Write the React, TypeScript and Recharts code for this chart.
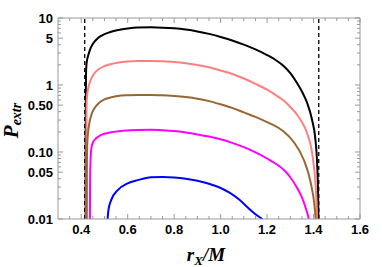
import React from "react";
import { LineChart, Line, XAxis, YAxis, ReferenceLine } from "recharts";

// ---- data (x = r_X/M, y = P_extr) ----
const blackCurve: [number, number][] = [
  [0.4188, 0.01], [0.419, 0.1], [0.4195, 0.6], [0.4205, 1.4], [0.422, 1.9], [0.4245, 2.3], [0.4285, 2.63],
  [0.435, 3.15], [0.4427, 3.7], [0.455, 4.35], [0.4714, 5.0], [0.49, 5.5], [0.5142, 6.0], [0.54, 6.4],
  [0.5712, 6.75], [0.6, 6.98], [0.643, 7.2], [0.7, 7.25], [0.75, 7.18], [0.8, 7.02], [0.85, 6.72],
  [0.9, 6.3], [0.95, 5.8], [1.0, 5.22], [1.05, 4.62], [1.1, 4.0], [1.15, 3.4], [1.2, 2.8], [1.237, 2.36],
  [1.2726, 1.9], [1.3, 1.5], [1.3296, 1.06], [1.35, 0.8], [1.3724, 0.54], [1.3938, 0.3], [1.4084, 0.15],
  [1.4153, 0.07], [1.4195, 0.025], [1.4213, 0.01],
];
const salmonCurve: [number, number][] = [
  [0.4218, 0.01], [0.4222, 0.1], [0.4228, 0.4], [0.424, 0.62], [0.428, 0.82], [0.4358, 1.06],
  [0.445, 1.28], [0.4572, 1.5], [0.475, 1.72], [0.5, 1.92], [0.53, 2.06], [0.557, 2.15], [0.6, 2.24],
  [0.643, 2.28], [0.7, 2.29], [0.75, 2.26], [0.8, 2.21], [0.85, 2.12], [0.9, 1.99], [0.95, 1.84],
  [1.0, 1.65], [1.05, 1.46], [1.1, 1.25], [1.15, 1.04], [1.2, 0.85], [1.25, 0.66], [1.2726, 0.58],
  [1.3, 0.47], [1.3296, 0.36], [1.35, 0.28], [1.3724, 0.19], [1.3981, 0.076], [1.411, 0.024], [1.4153, 0.01],
];
const brownCurve: [number, number][] = [
  [0.4238, 0.01], [0.4242, 0.05], [0.4255, 0.12], [0.4285, 0.18], [0.4358, 0.28], [0.445, 0.37],
  [0.4572, 0.45], [0.475, 0.535], [0.5, 0.61], [0.53, 0.655], [0.557, 0.685], [0.6, 0.703], [0.643, 0.71],
  [0.7, 0.712], [0.75, 0.703], [0.8, 0.685], [0.85, 0.66], [0.9, 0.625], [0.95, 0.575], [1.0, 0.515],
  [1.05, 0.455], [1.1, 0.39], [1.15, 0.335], [1.2, 0.28], [1.25, 0.228], [1.2726, 0.2], [1.3154, 0.14],
  [1.3583, 0.076], [1.387, 0.036], [1.4041, 0.016], [1.4095, 0.01],
];
const magentaCurve: [number, number][] = [
  [0.4375, 0.01], [0.438, 0.03], [0.4392, 0.06], [0.4427, 0.107], [0.45, 0.138], [0.4572, 0.151],
  [0.4855, 0.18], [0.5284, 0.197], [0.58, 0.207], [0.643, 0.213], [0.7, 0.214], [0.75, 0.211],
  [0.8, 0.205], [0.85, 0.195], [0.9, 0.183], [0.95, 0.17], [1.0, 0.155], [1.05, 0.137], [1.1, 0.118],
  [1.137, 0.104], [1.2, 0.08], [1.251, 0.062], [1.2726, 0.054], [1.3, 0.042], [1.3296, 0.029],
  [1.35, 0.021], [1.3724, 0.0125], [1.38, 0.01],
];
const blueCurve: [number, number][] = [
  [0.5135, 0.01], [0.517, 0.0135], [0.5284, 0.019], [0.5572, 0.027], [0.6, 0.034], [0.643, 0.038],
  [0.7, 0.042], [0.75, 0.0425], [0.8, 0.0418], [0.85, 0.04], [0.9, 0.0372], [0.95, 0.0335], [1.0, 0.029],
  [1.04, 0.0245], [1.08, 0.0195], [1.12, 0.0145], [1.15, 0.0118], [1.18, 0.01],
];

const asymptotes = [0.415, 1.4225];

const xDomain: [number, number] = [0.3, 1.6];
const yDomain: [number, number] = [0.01, 10];
const xMajor = [0.4, 0.6, 0.8, 1.0, 1.2, 1.4, 1.6];
const xMajorLabels = ["0.4", "0.6", "0.8", "1.0", "1.2", "1.4", "1.6"];
const xMinor = [0.35, 0.45, 0.5, 0.55, 0.65, 0.7, 0.75, 0.85, 0.9, 0.95, 1.05, 1.1, 1.15, 1.25, 1.3, 1.35, 1.45, 1.5, 1.55];
const yMajor = [0.01, 0.05, 0.1, 0.5, 1, 5, 10];
const yMajorLabels = ["0.01", "0.05", "0.10", "0.50", "1", "5", "10"];
const yMinor = [0.02, 0.03, 0.04, 0.06, 0.07, 0.08, 0.09, 0.2, 0.3, 0.4, 0.6, 0.7, 0.8, 0.9, 2, 3, 4, 6, 7, 8, 9];

const series = [
  { name: "black", data: blackCurve, color: "#000000" },
  { name: "salmon", data: salmonCurve, color: "#ff7f7f" },
  { name: "brown", data: brownCurve, color: "#996633" },
  { name: "magenta", data: magentaCurve, color: "#ff00ff" },
  { name: "blue", data: blueCurve, color: "#0000ff" },
];

const frame = "#999999";
const tickFont = "'Liberation Sans', Arial, sans-serif";
const serif = "'Liberation Serif', 'Times New Roman', serif";
const xTicks = [...xMajor, ...xMinor].sort((a, b) => a - b);
const yTicks = [...yMajor, ...yMinor].sort((a, b) => a - b);

const near = (arr: number[], v: number) => arr.findIndex((a) => Math.abs(a - v) < 1e-9);
const labelStyle = { fontFamily: tickFont, fontWeight: "bold" as const, fontSize: 13 };

const BottomTick = (p: any) => {
  const i = near(xMajor, p.payload.value);
  const len = i >= 0 ? 5 : 3;
  const x = Number(p.x);
  const y = Number(p.y);
  return (
    <g>
      <path d={`M${x},${y}V${y - len}`} stroke={frame} strokeWidth={1} fill="none" />
      {i >= 0 && (
        <text x={x} y={y + 15} textAnchor="middle" style={labelStyle} fill="#000">
          {xMajorLabels[i]}
        </text>
      )}
    </g>
  );
};
const TopTick = (p: any) => {
  const i = near(xMajor, p.payload.value);
  const len = i >= 0 ? 5 : 3;
  const x = Number(p.x);
  const y = Number(p.y);
  return <path d={`M${x},${y}V${y + len}`} stroke={frame} strokeWidth={1} fill="none" />;
};
const LeftTick = (p: any) => {
  const i = near(yMajor, p.payload.value);
  const len = i >= 0 ? 5 : 3;
  const x = Number(p.x);
  const y = Number(p.y);
  return (
    <g>
      <path d={`M${x},${y}H${x + len}`} stroke={frame} strokeWidth={1} fill="none" />
      {i >= 0 && (
        <text x={x - 5} y={y} dy="0.36em" textAnchor="end" style={labelStyle} fill="#000">
          {yMajorLabels[i]}
        </text>
      )}
    </g>
  );
};
const RightTick = (p: any) => {
  const i = near(yMajor, p.payload.value);
  const len = i >= 0 ? 5 : 3;
  const x = Number(p.x);
  const y = Number(p.y);
  return <path d={`M${x},${y}H${x - len}`} stroke={frame} strokeWidth={1} fill="none" />;
};

const YLabel = (props: any) => {
  const vb = props.viewBox || { x: 0, y: 18, width: 58, height: 201 };
  const cy = vb.y + vb.height / 2;
  return (
    <text
      transform={`translate(18, ${cy + 2}) rotate(-90)`}
      textAnchor="middle"
      style={{ fontFamily: serif, fontWeight: "bold", fontStyle: "italic" }}
      fill="#000"
    >
      <tspan fontSize={21}>P</tspan>
      <tspan fontSize={14} dy={3}>extr</tspan>
    </text>
  );
};
const XLabel = (props: any) => {
  const vb = props.viewBox || { x: 58, y: 219, width: 302, height: 48 };
  const cx = vb.x + vb.width / 2;
  return (
    <text x={cx - 3} y={261} textAnchor="middle" style={{ fontFamily: serif, fontWeight: "bold", fontStyle: "italic" }} fill="#000">
      <tspan fontSize={19}>r</tspan>
      <tspan fontSize={13} dy={4}>X</tspan>
      <tspan fontSize={19} dy={-4}>/M</tspan>
    </text>
  );
};

export default function App() {
  return (
    <div style={{ position: "absolute", left: 0, top: 0, width: 382, height: 267, background: "#fff" }}>
      <LineChart width={382} height={267} margin={{ top: 0, right: 0, bottom: 0, left: 0 }}>
        <XAxis
          xAxisId={0}
          dataKey="x"
          type="number"
          domain={xDomain}
          allowDataOverflow
          ticks={xTicks}
          interval={0}
          tick={BottomTick}
          tickLine={false}
          tickSize={0}
          tickMargin={0}
          height={48}
          axisLine={{ stroke: frame }}
          label={{ content: XLabel }}
        />
        <XAxis
          xAxisId="top"
          dataKey="x"
          orientation="top"
          type="number"
          domain={xDomain}
          allowDataOverflow
          ticks={xTicks}
          interval={0}
          tick={TopTick}
          tickLine={false}
          tickSize={0}
          tickMargin={0}
          height={18}
          axisLine={{ stroke: frame }}
        />
        <YAxis
          yAxisId={0}
          type="number"
          scale="log"
          domain={yDomain}
          allowDataOverflow
          ticks={yTicks}
          interval={0}
          tick={LeftTick}
          tickLine={false}
          tickSize={0}
          tickMargin={0}
          width={58}
          axisLine={{ stroke: frame }}
          label={{ content: YLabel }}
        />
        <YAxis
          yAxisId="right"
          orientation="right"
          type="number"
          scale="log"
          domain={yDomain}
          allowDataOverflow
          ticks={yTicks}
          interval={0}
          tick={RightTick}
          tickLine={false}
          tickSize={0}
          tickMargin={0}
          width={22}
          axisLine={{ stroke: frame }}
        />
        {asymptotes.map((a) => (
          <ReferenceLine key={a} x={a} xAxisId={0} yAxisId={0} stroke="#000" strokeWidth={1.3} strokeDasharray="4 3" />
        ))}
        {series.map((s) => (
          <Line
            key={s.name}
            data={s.data.map(([x, y]) => ({ x, y }))}
            dataKey="y"
            xAxisId={0}
            yAxisId={0}
            type="monotone"
            stroke={s.color}
            strokeWidth={2}
            dot={false}
            isAnimationActive={false}
          />
        ))}
      </LineChart>
    </div>
  );
}
